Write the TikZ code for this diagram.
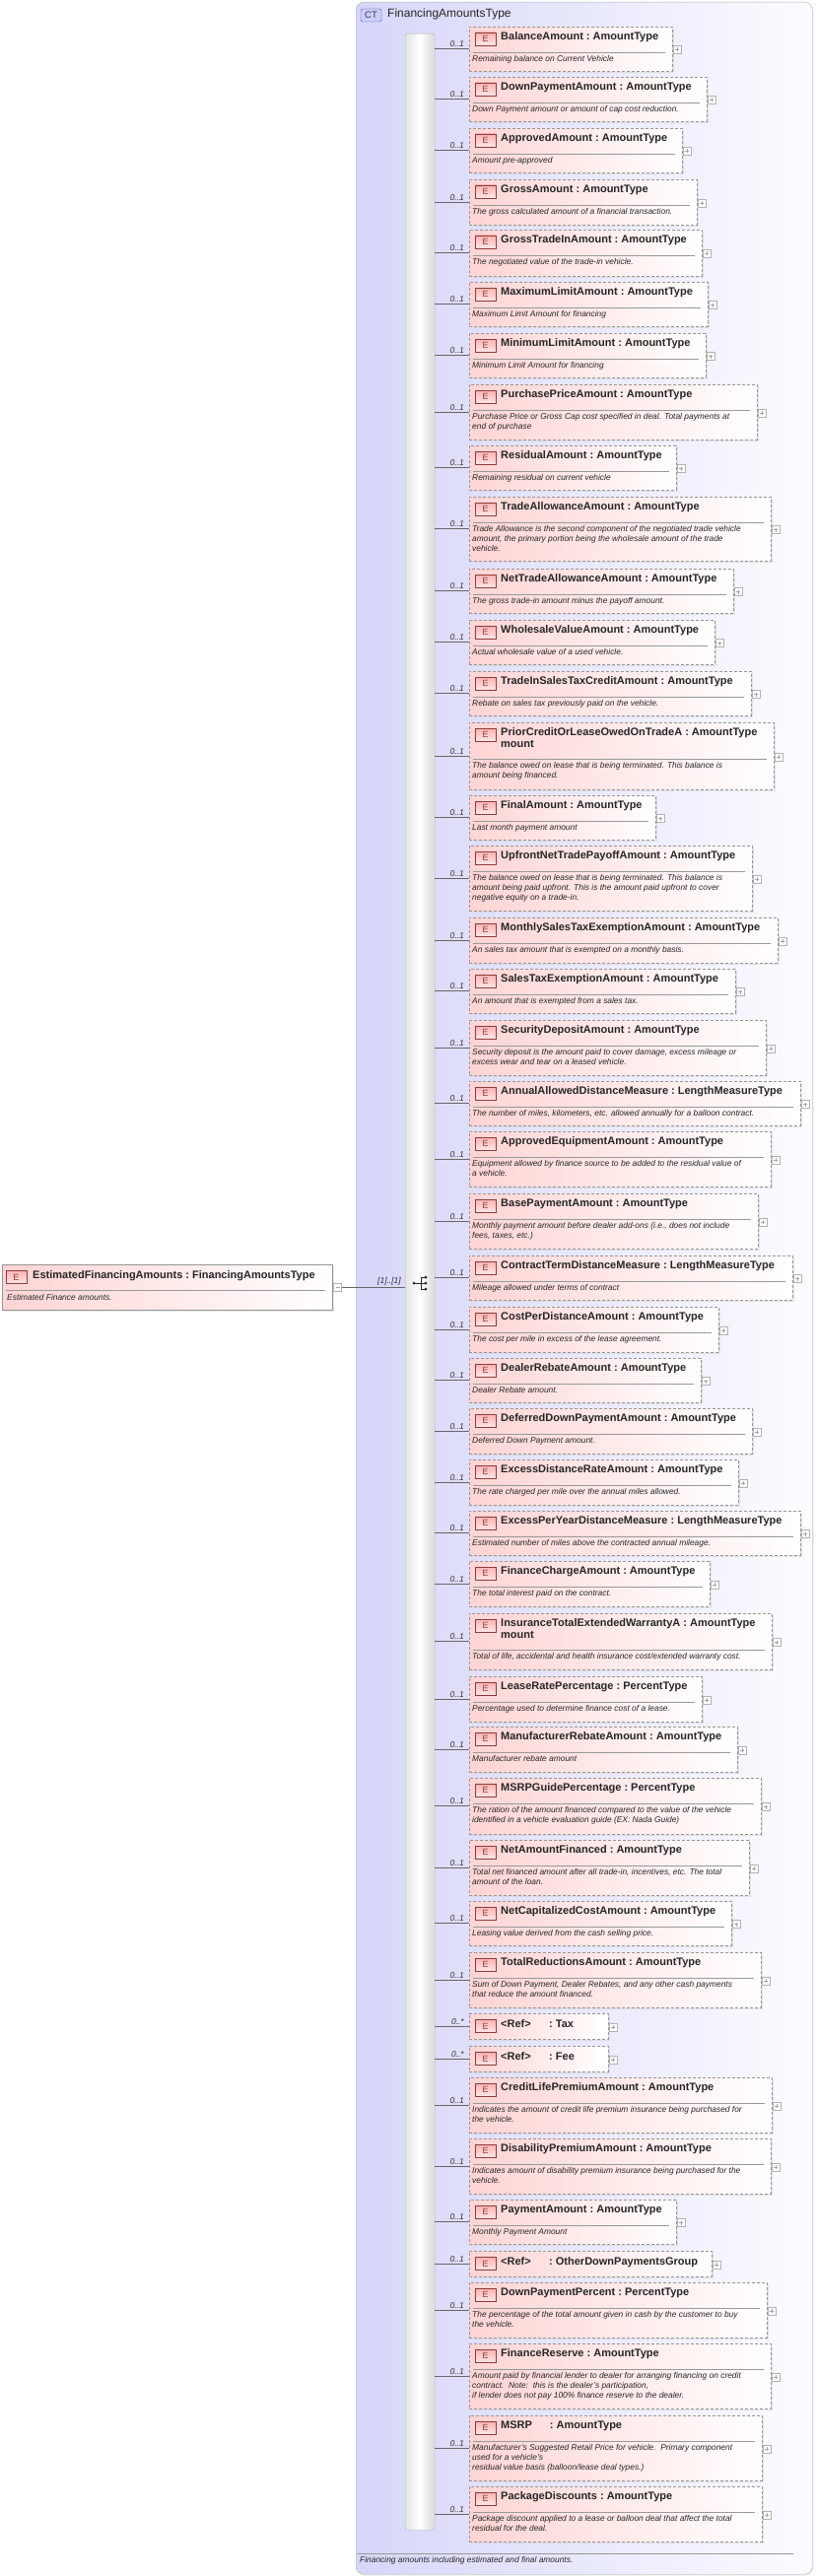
\documentclass[tikz,border=0pt]{standalone}
\usepackage{fontspec}
\setmainfont{Liberation Sans}
\usetikzlibrary{shadows}
\definecolor{pinkL}{RGB}{255,212,212}
\definecolor{lavL}{RGB}{214,214,250}
\definecolor{lavM}{RGB}{232,232,252}
\definecolor{lavR}{RGB}{252,252,255}
\definecolor{bordr}{RGB}{150,150,150}
\definecolor{badgeD}{RGB}{140,60,60}
\tikzset{
 elbox/.style={draw=bordr, dash pattern=on 3pt off 2pt, left color=pinkL, right color=white, anchor=north west, inner sep=0pt,
   drop shadow={shadow xshift=1.5pt, shadow yshift=-1.5pt, fill=black!18}},
 solidbox/.style={draw=bordr, left color=pinkL, right color=white, anchor=north west, inner sep=0pt,
   drop shadow={shadow xshift=1.5pt, shadow yshift=-1.5pt, fill=black!18}},
 conn/.style={draw=gray!80!black, line width=0.5pt},
 mult/.style={anchor=south east, inner sep=0pt, font=\fontsize{8.5}{10}\selectfont\itshape, text=black!80},
 ebadge/.style={draw=badgeD, top color=red!30, bottom color=red!10, minimum width=21pt, minimum height=13pt, inner sep=0pt,
   font=\fontsize{9}{10}\selectfont, text=badgeD},
 titl/.style={anchor=north west, inner sep=0pt, align=left, font=\fontsize{11}{12}\selectfont\bfseries, text=black!85},
 desc/.style={anchor=north west, inner sep=0pt, align=left, font=\fontsize{8.4}{10}\selectfont\itshape, text=black!85},
 sepl/.style={draw=gray!80, line width=0.5pt},
 plusbox/.style={draw=gray!60, fill=white, minimum size=8pt, inner sep=0pt,
   path picture={\draw[gray!70] ([xshift=2pt]path picture bounding box.west) -- ([xshift=-2pt]path picture bounding box.east)
     ([yshift=2pt]path picture bounding box.south) -- ([yshift=-2pt]path picture bounding box.north);}},
 minusbox/.style={draw=gray!60, fill=white, minimum size=8pt, inner sep=0pt,
   path picture={\draw[gray!70] ([xshift=2pt]path picture bounding box.west) -- ([xshift=-2pt]path picture bounding box.east);}},
}
% #1 id, #2 top, #3 bottom, #4 right, #5 title, #6 desc, #7 separator offset
\newcommand\el[7]{%
 \pgfmathsetmacro\bw{#4-476}\pgfmathsetmacro\bh{#3-#2}\pgfmathsetmacro\bm{(#2+#3)/2}%
 \node[elbox,minimum width=\bw pt,minimum height=\bh pt] (#1) at (476,#2) {};
 \draw[conn] (seq.east |- #1.west) -- (#1.west);
 \node[mult] (#1m) at (471,\bm-1.5) {0..1};
 \node[ebadge] (#1b) at (492.5,#2+12.5) {E};
 \node[titl] (#1t) at (508,#2+5.5) {#5};
 \draw[sepl] (480,#2+#7) -- (#4-7,#2+#7);
 \node[desc] (#1d) at (479,#2+#7+3.5) {#6};
 \node[plusbox] (#1p) at (#4+5,\bm+1) {};
}
% #1 id, #2 top, #3 bottom, #4 right, #5 type, #6 mult
\newcommand\refel[6]{%
 \pgfmathsetmacro\bw{#4-476}\pgfmathsetmacro\bh{#3-#2}\pgfmathsetmacro\bm{(#2+#3)/2}%
 \node[elbox,minimum width=\bw pt,minimum height=\bh pt] (#1) at (476,#2) {};
 \draw[conn] (seq.east |- #1.west) -- (#1.west);
 \node[mult] (#1m) at (471,\bm-1.5) {#6};
 \node[ebadge] (#1b) at (492.5,#2+13) {E};
 \node[titl] (#1t) at (508,#2+6.5) {<Ref>};
 \node[titl] (#1u) at (557,#2+6.5) {:~#5};
 \node[plusbox] (#1p) at (#4+5,\bm+1) {};
}
\begin{document}
\begin{tikzpicture}[x=1pt,y=-1pt]
\useasboundingbox (0,0) rectangle (829,2614);
% complex type container
\node[draw=gray!60, rounded corners=8pt, left color=lavL, middle color=lavM, right color=lavR, minimum width=463pt, minimum height=2610pt,
  anchor=north west, inner sep=0pt, drop shadow={shadow xshift=1.5pt, shadow yshift=-1.5pt, fill=black!15}] (ct) at (361,2) {};
\node[draw=blue!40!gray, rounded corners=2pt, fill=lavL!80!blue!60, minimum width=21pt, minimum height=13pt, inner sep=0pt,
  font=\fontsize{9.5}{10}\selectfont, text=black!75] (ctb) at (376.5,15.5) {CT};
\node[anchor=west, inner sep=0pt, font=\fontsize{12}{13}\selectfont, text=black!85] (ctt) at (393,14) {FinancingAmountsType};
\draw[sepl] (362,2591) -- (805,2591);
\node[anchor=north west, inner sep=0pt, font=\fontsize{8.4}{10}\selectfont\itshape, text=black!85] (ctf) at (365,2594)
  {Financing amounts including estimated and final amounts.};
% sequence bar
\node[draw=gray!60, rounded corners=2pt, left color=gray!20, right color=gray!30, middle color=white, shading angle=90,
  minimum width=30pt, minimum height=2533pt, anchor=north west, inner sep=0pt] (seq) at (411,34) {};
% root element
\node[solidbox, minimum width=335pt, minimum height=46pt] (root) at (2,1283) {};
\node[ebadge] (rootb) at (16.5,1296) {E};
\node[titl] (roott) at (33,1289) {EstimatedFinancingAmounts~:~FinancingAmountsType};
\draw[sepl] (6,1309) -- (330,1309);
\node[desc] (rootd) at (7,1313) {Estimated Finance amounts.};
\node[minusbox] (rootm) at (342.5,1306.5) {};
\draw[conn] (rootm.east) -- (seq.west |- rootm.east);
\node[mult] (rootmult) at (407,1304) {[1]..[1]};
% sequence icon
\coordinate (sq) at (427,1302);
\draw[gray!30!black, line width=0.6pt] (420,1302) -- (sq) (427,1296) -- (427,1308)
  (427,1296) -- (432,1296) (sq) -- (432,1302) (427,1308) -- (432,1308);
\fill[gray!30!black] (420,1302) circle (1.5pt) (432,1296) circle (1.5pt) (432,1302) circle (1.5pt) (432,1308) circle (1.5pt);
% children
\el{e1}{27}{72}{682}{BalanceAmount~:~AmountType}{Remaining balance on Current Vehicle}{26}
\el{e2}{78}{123}{717}{DownPaymentAmount~:~AmountType}{Down Payment amount or amount of cap cost reduction.}{26}
\el{e3}{130}{175}{692}{ApprovedAmount~:~AmountType}{Amount pre-approved}{26}
\el{e4}{182}{228}{707}{GrossAmount~:~AmountType}{The gross calculated amount of a financial transaction.}{26}
\el{e5}{233}{280}{712}{GrossTradeInAmount~:~AmountType}{The negotiated value of the trade-in vehicle.}{26}
\el{e6}{286}{331}{718}{MaximumLimitAmount~:~AmountType}{Maximum Limit Amount for financing}{26}
\el{e7}{338}{383}{716}{MinimumLimitAmount~:~AmountType}{Minimum Limit Amount for financing}{26}
\el{e8}{390}{446}{768}{PurchasePriceAmount~:~AmountType}{Purchase Price or Gross Cap cost specified in deal. Total payments at\\end of purchase}{26}
\el{e9}{452}{497}{686}{ResidualAmount~:~AmountType}{Remaining residual on current vehicle}{26}
\el{e10}{504}{569}{782}{TradeAllowanceAmount~:~AmountType}{Trade Allowance is the second component of the negotiated trade vehicle\\amount, the primary portion being the wholesale amount of the trade\\vehicle.}{26}
\el{e11}{577}{622}{744}{NetTradeAllowanceAmount~:~AmountType}{The gross trade-in amount minus the payoff amount.}{26}
\el{e12}{629}{674}{725}{WholesaleValueAmount~:~AmountType}{Actual wholesale value of a used vehicle.}{26}
\el{e13}{681}{726}{762}{TradeInSalesTaxCreditAmount~:~AmountType}{Rebate on sales tax previously paid on the vehicle.}{26}
\el{e14}{733}{801}{785}{PriorCreditOrLeaseOwedOnTradeA~:~AmountType\\mount}{The balance owed on lease that is being terminated. This balance is\\amount being financed.}{37}
\el{e15}{807}{852}{665}{FinalAmount~:~AmountType}{Last month payment amount}{26}
\el{e16}{858}{924}{763}{UpfrontNetTradePayoffAmount~:~AmountType}{The balance owed on lease that is being terminated. This balance is\\amount being paid upfront. This is the amount paid upfront to cover\\negative equity on a trade-in.}{26}
\el{e17}{931}{977}{789}{MonthlySalesTaxExemptionAmount~:~AmountType}{An sales tax amount that is exempted on a monthly basis.}{26}
\el{e18}{983}{1028}{746}{SalesTaxExemptionAmount~:~AmountType}{An amount that is exempted from a sales tax.}{26}
\el{e19}{1035}{1091}{777}{SecurityDepositAmount~:~AmountType}{Security deposit is the amount paid to cover damage, excess mileage or\\excess wear and tear on a leased vehicle.}{26}
\el{e20}{1097}{1142}{812}{AnnualAllowedDistanceMeasure~:~LengthMeasureType}{The number of miles, kilometers, etc. allowed annually for a balloon contract.}{26}
\el{e21}{1148}{1204}{782}{ApprovedEquipmentAmount~:~AmountType}{Equipment allowed by finance source to be added to the residual value of\\a vehicle.}{26}
\el{e22}{1211}{1267}{769}{BasePaymentAmount~:~AmountType}{Monthly payment amount before dealer add-ons (i.e., does not include\\fees, taxes, etc.)}{26}
\el{e23}{1274}{1319}{804}{ContractTermDistanceMeasure~:~LengthMeasureType}{Mileage allowed under terms of contract}{26}
\el{e24}{1326}{1372}{729}{CostPerDistanceAmount~:~AmountType}{The cost per mile in excess of the lease agreement.}{26}
\el{e25}{1378}{1423}{711}{DealerRebateAmount~:~AmountType}{Dealer Rebate amount.}{26}
\el{e26}{1429}{1475}{763}{DeferredDownPaymentAmount~:~AmountType}{Deferred Down Payment amount.}{26}
\el{e27}{1481}{1527}{749}{ExcessDistanceRateAmount~:~AmountType}{The rate charged per mile over the annual miles allowed.}{26}
\el{e28}{1533}{1578}{812}{ExcessPerYearDistanceMeasure~:~LengthMeasureType}{Estimated number of miles above the contracted annual mileage.}{26}
\el{e29}{1584}{1630}{720}{FinanceChargeAmount~:~AmountType}{The total interest paid on the contract.}{26}
\el{e30}{1637}{1694}{783}{InsuranceTotalExtendedWarrantyA~:~AmountType\\mount}{Total of life, accidental and health insurance cost/extended warranty cost.}{37}
\el{e31}{1701}{1747}{712}{LeaseRatePercentage~:~PercentType}{Percentage used to determine finance cost of a lease.}{26}
\el{e32}{1752}{1798}{748}{ManufacturerRebateAmount~:~AmountType}{Manufacturer rebate amount}{26}
\el{e33}{1804}{1861}{772}{MSRPGuidePercentage~:~PercentType}{The ration of the amount financed compared to the value of the vehicle\\identified in a vehicle evaluation guide (EX: Nada Guide)}{26}
\el{e34}{1867}{1923}{760}{NetAmountFinanced~:~AmountType}{Total net financed amount after all trade-in, incentives, etc. The total\\amount of the loan.}{26}
\el{e35}{1929}{1974}{742}{NetCapitalizedCostAmount~:~AmountType}{Leasing value derived from the cash selling price.}{26}
\el{e36}{1981}{2037}{772}{TotalReductionsAmount~:~AmountType}{Sum of Down Payment, Dealer Rebates, and any other cash payments\\that reduce the amount financed.}{26}
\refel{e37}{2043}{2069}{617}{Tax}{0..*}
\refel{e38}{2076}{2102}{617}{Fee}{0..*}
\el{e39}{2108}{2164}{783}{CreditLifePremiumAmount~:~AmountType}{Indicates the amount of credit life premium insurance being purchased for\\the vehicle.}{26}
\el{e40}{2170}{2226}{782}{DisabilityPremiumAmount~:~AmountType}{Indicates amount of disability premium insurance being purchased for the\\vehicle.}{26}
\el{e41}{2232}{2277}{686}{PaymentAmount~:~AmountType}{Monthly Payment Amount}{26}
\refel{e42}{2284}{2310}{722}{OtherDownPaymentsGroup}{0..1}
\el{e43}{2316}{2372}{778}{DownPaymentPercent~:~PercentType}{The percentage of the total amount given in cash by the customer to buy\\the vehicle.}{26}
\el{e44}{2378}{2444}{782}{FinanceReserve~:~AmountType}{Amount paid by financial lender to dealer for arranging financing on credit\\contract.\ \ Note:\ \ this is the dealer’s participation,\\if lender does not pay 100\% finance reserve to the dealer.}{26}
\el{e45}{2451}{2517}{773}{MSRP\hspace{18pt}:~AmountType}{Manufacturer’s Suggested Retail Price for vehicle.\ \ Primary component\\used for a vehicle’s\\residual value basis (balloon/lease deal types.)}{26}
\el{e46}{2523}{2579}{773}{PackageDiscounts~:~AmountType}{Package discount applied to a lease or balloon deal that affect the total\\residual for the deal.}{26}
\end{tikzpicture}
\end{document}
